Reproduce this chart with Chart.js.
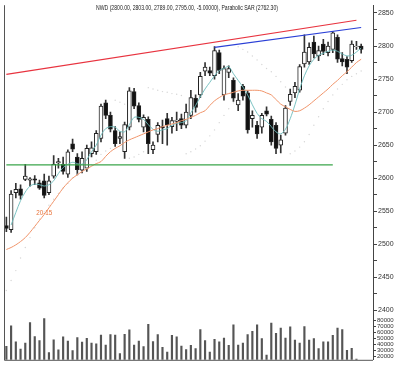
<!DOCTYPE html>
<html><head><meta charset="utf-8">
<script src="https://cdn.jsdelivr.net/npm/chart.js@4.4.0/dist/chart.umd.min.js"></script>
<style>html,body{margin:0;padding:0;background:#fff;overflow:hidden}#wrap{width:400px;height:365px}</style>
</head><body><div id="wrap"><canvas id="c" width="400" height="365"></canvas></div>
<script>
const titleText = 'NWD (2800.00, 2803.00, 2789.00, 2795.00, -5.00000), Parabolic SAR (2762.30)';
const maLabel = '20-15';
const days = ['1','2','3','4','5','6','7','8','9','10','11','12','13','14','15','16','17','18','19','20',
'21','22','23','24','25','26','27','28','29','30','31','32','33','34','35','36','37','38','39','40',
'41','42','43','44','45','46','47','48','49','50','51','52','53','54','55','56','57','58','59','60',
'61','62','63','64','65','66','67','68','69','70','71','72','73','74','75','76','',''];
const openP  = [2528,2522,2578,2584,2598,2597,2599,2593,2596,2578,2603,2623,2621,2606,2652,2632,2612,2615,2637,2640,
2660,2714,2695,2672,2660,2640,2677,2731,2710,2677,2689,2643,2666,2678,2690,2678,2686,2690,2680,2695,
2721,2726,2762,2763,2755,2790,2726,2760,2748,2711,2739,2729,2690,2680,2677,2702,2689,2680,2650,2668,
2716,2729,2733,2773,2776,2806,2785,2803,2790,2795,2813,2781,2780,2778,2799,2800];
const highP  = [2541,2581,2592,2590,2621,2601,2604,2597,2606,2603,2634,2630,2632,2643,2659,2637,2640,2650,2655,2672,
2712,2718,2700,2678,2670,2685,2737,2736,2714,2696,2693,2655,2684,2688,2698,2692,2700,2697,2712,2733,
2726,2760,2775,2768,2799,2794,2770,2770,2752,2728,2742,2732,2702,2686,2698,2708,2694,2684,2665,2710,
2735,2745,2772,2817,2805,2815,2800,2810,2806,2822,2817,2790,2784,2808,2807,2803];
const lowP   = [2519,2518,2570,2568,2596,2588,2590,2583,2570,2575,2600,2615,2606,2601,2640,2605,2608,2610,2632,2636,
2655,2690,2670,2648,2652,2630,2673,2705,2685,2670,2637,2637,2655,2652,2650,2668,2672,2675,2676,2690,
2700,2722,2755,2755,2750,2758,2718,2752,2716,2702,2718,2668,2677,2660,2668,2694,2650,2637,2638,2665,
2710,2722,2730,2768,2772,2782,2778,2787,2785,2790,2775,2770,2758,2775,2795,2789];
const closeP = [2524,2576,2583,2574,2603,2599,2597,2585,2574,2596,2621,2625,2610,2640,2644,2613,2630,2645,2646,2668,
2709,2695,2674,2652,2663,2681,2732,2709,2689,2692,2652,2650,2680,2676,2681,2687,2688,2680,2700,2722,
2707,2754,2768,2759,2793,2763,2766,2766,2721,2718,2724,2673,2695,2667,2695,2697,2655,2645,2658,2706,
2727,2739,2769,2791,2798,2788,2793,2792,2800,2820,2780,2776,2768,2803,2800,2795];
const volume = [37400,71400,44900,33000,42700,76800,53600,47100,83700,27100,48100,31400,53000,46000,30300,52000,44400,50800,42700,41600,
56200,39500,56800,56200,25400,57300,64900,39500,46000,36800,74000,45400,56800,35800,27700,55700,53000,37900,31900,39000,
33500,65400,47100,27700,49200,44900,51300,39000,73000,39500,42700,56800,62200,73000,50300,22800,76200,58900,67600,51300,
69800,47600,42700,70300,47600,50300,33500,44900,44900,55700,67600,65400,30900,34100,16300,null];
const maShort = [null,2529,2548,2566,2579,2588,2591,2590,2588,2590,2596,2607,2616,2621,2624,2622,2621,2628,2640,2650,
2665,2675,2678,2677,2671,2670,2681,2692,2692,2689,2681,2674,2671,2673,2675,2680,2683,2684,2687,2699,
2710,2723,2735,2745,2755,2763,2766,2769,2758,2748,2738,2726,2711,2698,2690,2686,2678,2670,2667,2674,
2690,2711,2735,2755,2770,2780,2786,2789,2792,2794,2792,2788,2785,2786,2791,2797];
const maLong = [2492,2495,2499,2504,2510,2518,2527,2536,2545,2555,2565,2575,2585,2593,2600,2605,2610,2614,2618,2622,
2625,2633,2640,2645,2649,2654,2658,2661,2664,2667,2670,2673,2675,2678,2680,2682,2684,2687,2689,2692,
2695,2699,2702,2710,2717,2722,2726,2728,2730,2732,2733,2733,2733,2733,2732,2729,2726,2719,2712,2708,
2704,2701,2702,2706,2711,2717,2723,2729,2735,2742,2748,2755,2761,2768,2775,2780];
const sar = [2430,2445,2460,2479,2495,2510,2525,2538,2549,2559,2568,2577,2585,2592,2600,2606,2610,2615,2620,2627,
2636,2641,2645,2718,2715,2712,2630,2632,2636,2640,2737,2735,2733,2731,2730,2728,2727,2725,2637,2640,
2644,2649,2656,2664,2673,2684,2695,2705,2714,2799,2795,2791,2785,2779,2772,2766,2761,2754,2746,2738,
2637,2641,2647,2655,2666,2680,2693,2705,2716,2726,2735,2742,2749,2754,2758,2762.3];
const redLineIdx = [0, 74];   const redLineVal = [2757, 2839];
const blueLineIdx = [44, 75]; const blueLineVal = [2798, 2828];
const greenLineIdx = [0, 69]; const greenLineVal = [2620, 2620];
const priceTicks = [2400,2425,2450,2475,2500,2525,2550,2575,2600,2625,2650,2675,2700,2725,2750,2775,2800,2825,2850];
const priceLabels = [2400,2450,2500,2550,2600,2650,2700,2750,2800,2850];
const volTicks = [20000,30000,40000,50000,60000,70000,80000];

function lineData(idx, val) {
  const d = days.map(() => null);
  idx.forEach((k, j) => { d[k] = val[j]; });
  return d;
}

const framePlugin = {
  id: 'frame',
  afterDraw(chart) {
    const {ctx, chartArea: a, scales} = chart;
    ctx.save();
    ctx.strokeStyle = '#555';
    ctx.lineWidth = 1;
    ctx.beginPath();
    ctx.moveTo(a.left + 0.5, a.top);
    ctx.lineTo(a.left + 0.5, a.bottom + 0.5);
    ctx.lineTo(a.right, a.bottom + 0.5);
    ctx.stroke();
    ctx.fillStyle = '#222';
    ctx.font = '7px "Liberation Sans"';
    ctx.textBaseline = 'middle';
    ctx.textAlign = 'left';
    ctx.fillText(titleText, 96, 8, 182);
    ctx.fillStyle = '#e8733a';
    ctx.textAlign = 'center';
    ctx.fillText(maLabel, scales.x.getPixelForValue(8), scales.y.getPixelForValue(2547), 16);
    ctx.restore();
  }
};

new Chart(document.getElementById('c'), {
  type: 'bar',
  data: {
    labels: days,
    datasets: [
      {type:'line', data: lineData(redLineIdx, redLineVal), spanGaps:true, borderColor:'#e8333f', borderWidth:1.2, pointRadius:0, yAxisID:'y', order:0},
      {type:'line', data: lineData(blueLineIdx, blueLineVal), spanGaps:true, borderColor:'#2a3fd6', borderWidth:1.2, pointRadius:0, yAxisID:'y', order:0},
      {type:'line', data: lineData(greenLineIdx, greenLineVal), spanGaps:true, borderColor:'#3aa54a', borderWidth:1.2, pointRadius:0, yAxisID:'y', order:0},
      {type:'line', data: maLong, borderColor:'#f0946a', borderWidth:1, pointRadius:0, tension:0.3, yAxisID:'y', order:0},
      {type:'line', data: maShort, borderColor:'#6cbcbc', borderWidth:0.9, pointRadius:0, tension:0.3, yAxisID:'y', order:0},
      {type:'line', data: sar, showLine:false, pointRadius:0.7, pointBackgroundColor:'#d6d6d6', pointBorderWidth:0, yAxisID:'y', order:0},
      {type:'bar', data: openP.map((o,i)=>[o, closeP[i]]), backgroundColor: openP.map((o,i)=> closeP[i] >= o ? '#ffffff' : '#111111'),
        borderColor:'#222', borderWidth:1, borderSkipped:false, barThickness:4, grouped:false, yAxisID:'y', order:1},
      {type:'bar', data: lowP.map((l,i)=>[l, highP[i]]), backgroundColor:'#333', barThickness:1, grouped:false, yAxisID:'y', order:2},
      {type:'bar', data: volume, backgroundColor:'#555', barThickness:1.5, grouped:false, yAxisID:'yv', order:2}
    ]
  },
  options: {
    responsive:false, animation:false,
    layout:{padding:{left:2, top:0, right:0, bottom:2}},
    plugins:{legend:{display:false}, tooltip:{enabled:false}, title:{display:false}},
    scales:{
      x:{type:'category', display:false, offset:true, grid:{display:false}},
      y:{type:'linear', position:'right', stack:'s', stackWeight:316, min:2394.5, max:2861.8,
        afterBuildTicks: s => { s.ticks = priceTicks.map(v => ({value:v})); },
        afterFit: s => { s.width = 27; },
        ticks:{autoSkip:false, padding:1, color:'#333', font:{size:7, family:'Liberation Sans'},
          callback: v => priceLabels.includes(v) ? String(v) : ''},
        grid:{drawOnChartArea:false, drawTicks:true, tickLength:4, color:'#444', tickColor:'#444'},
        border:{display:true, color:'#444'}},
      yv:{type:'linear', position:'right', stack:'s', stackWeight:47, min:15000, max:91340,
        afterBuildTicks: s => { s.ticks = volTicks.map(v => ({value:v})); },
        afterFit: s => { s.width = 27; },
        ticks:{autoSkip:false, padding:1, color:'#333', font:{size:6, family:'Liberation Sans'},
          callback: v => String(v)},
        grid:{drawOnChartArea:false, drawTicks:true, tickLength:3, color:'#444', tickColor:'#444'},
        border:{display:true, color:'#444'}}
    }
  },
  plugins:[framePlugin]
});
</script></body></html>
